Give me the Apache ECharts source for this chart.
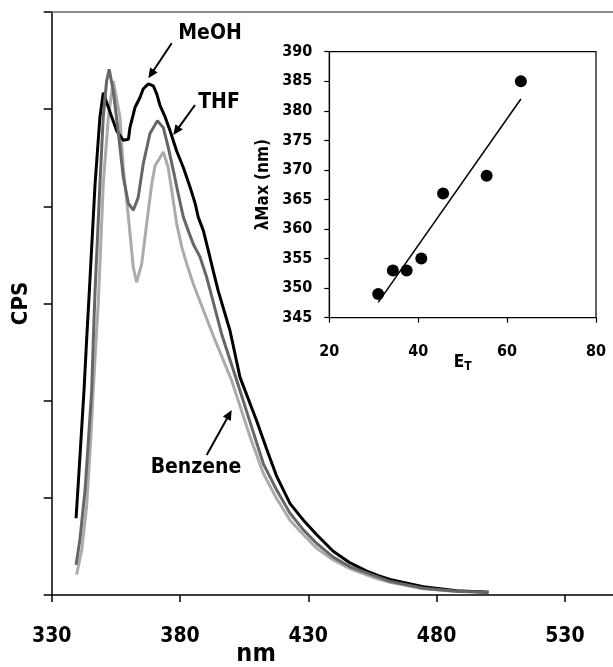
<!DOCTYPE html>
<html><head><meta charset="utf-8">
<script src="https://cdn.jsdelivr.net/npm/echarts@6/dist/echarts.min.js"></script>
<style>html,body{margin:0;padding:0;background:#fff}#c{width:613px;height:667px}</style>
</head><body><div id="c"></div>
<script>
const FONT = "'DejaVu Sans Condensed','DejaVu Sans',sans-serif";

// Emission spectra (wavelength nm, intensity CPS in arbitrary units)
const meohNm  = [339.5, 341.0, 342.6, 343.6, 344.7, 346.9, 348.8, 350.1, 353.4, 355.3, 357.9, 359.9, 360.5, 362.5, 364.4, 365.7, 367.7, 369.6, 370.9, 372.2, 374.2, 376.1, 378.7, 381.3, 383.9, 385.9, 387.1, 389.1, 391.0, 393.0, 394.9, 399.5, 403.4, 409.9, 413.8, 417.7, 422.9, 428.1, 433.3, 439.7, 446.3, 452.8, 457.3, 461.8, 474.8, 487.8, 500.2];
const meohCps = [0.79, 1.42, 2.11, 2.62, 3.14, 4.23, 4.92, 5.17, 4.92, 4.78, 4.68, 4.69, 4.81, 5.02, 5.12, 5.21, 5.26, 5.24, 5.16, 5.04, 4.92, 4.78, 4.57, 4.40, 4.20, 4.03, 3.89, 3.75, 3.55, 3.33, 3.13, 2.72, 2.24, 1.79, 1.50, 1.22, 0.94, 0.77, 0.62, 0.45, 0.33, 0.245, 0.20, 0.16, 0.085, 0.045, 0.028];

const thfNm  = [339.5, 341.0, 343.0, 344.3, 345.6, 346.2, 346.9, 348.8, 350.1, 351.4, 352.4, 354.0, 356.0, 357.9, 359.9, 361.8, 363.7, 365.7, 368.3, 371.2, 373.5, 375.4, 377.4, 379.3, 381.3, 383.2, 385.2, 387.8, 390.4, 392.4, 396.4, 402.1, 407.9, 412.5, 417.7, 422.9, 428.1, 433.3, 439.7, 446.3, 456.7, 461.8, 474.8, 487.8, 500.2];
const thfCps = [0.31, 0.57, 1.08, 1.59, 2.11, 2.62, 3.13, 4.23, 4.92, 5.29, 5.41, 5.19, 4.75, 4.30, 4.03, 3.96, 4.09, 4.44, 4.75, 4.88, 4.81, 4.61, 4.37, 4.13, 3.89, 3.75, 3.61, 3.48, 3.27, 3.07, 2.67, 2.21, 1.73, 1.35, 1.08, 0.84, 0.67, 0.53, 0.39, 0.29, 0.19, 0.14, 0.07, 0.038, 0.028];

const benzNm  = [339.7, 341.7, 343.6, 345.2, 346.2, 347.3, 348.2, 350.1, 352.1, 354.0, 356.6, 357.9, 359.9, 361.8, 363.1, 365.1, 367.0, 369.0, 370.3, 371.5, 373.5, 375.4, 376.8, 378.7, 380.7, 382.6, 385.2, 387.1, 393.7, 400.1, 407.3, 412.5, 417.7, 422.9, 428.1, 433.3, 439.7, 446.3, 456.7, 461.8, 474.8, 487.8, 500.2];
const benzCps = [0.21, 0.46, 0.91, 1.59, 2.11, 2.62, 3.03, 4.23, 4.92, 5.29, 4.92, 4.40, 3.89, 3.37, 3.22, 3.41, 3.82, 4.23, 4.42, 4.47, 4.56, 4.40, 4.16, 3.82, 3.58, 3.41, 3.20, 3.07, 2.62, 2.21, 1.63, 1.25, 0.99, 0.77, 0.62, 0.48, 0.36, 0.27, 0.17, 0.13, 0.065, 0.036, 0.028];

// Inset: solvent polarity E_T vs lambda max
const etValues  = [31.0, 34.3, 37.4, 40.7, 45.6, 55.4, 63.1];
const lambdaMax = [349, 353, 353, 355, 366, 369, 385];
const trendEt     = [31.0, 63.1];
const trendLambda = [347.6, 382.0];

const zip = (a, b) => a.map((v, i) => [v, b[i]]);

const chart = echarts.init(document.getElementById('c'), null, {renderer: 'canvas'});

function arrow(x1, y1, x2, y2) {
  const a = Math.atan2(y2 - y1, x2 - x1), L = 10, W = 4.5;
  const c = Math.cos(a), s = Math.sin(a);
  const bx = x2 - L * c, by = y2 - L * s;
  return [
    {type: 'line', shape: {x1: x1, y1: y1, x2: bx + 1.5 * c, y2: by + 1.5 * s}, style: {stroke: '#000', lineWidth: 2}},
    {type: 'polygon', shape: {points: [[x2, y2], [bx + W * s, by - W * c], [bx - W * s, by + W * c]]}, style: {fill: '#000'}}
  ];
}
function label(t, x, y) {
  return {type: 'text', x: x, y: y, style: {text: t, fill: '#000', font: 'bold 21px ' + FONT,
    align: 'center', verticalAlign: 'middle', textAlign: 'center', textVerticalAlign: 'middle'}};
}

const tickFont = {color: '#000', fontFamily: FONT, fontWeight: 'bold'};

chart.setOption({
  animation: false,
  backgroundColor: '#fff',
  grid: [
    {left: 51.7, top: 12, bottom: 72, width: 615.8, outerBoundsMode: 'none', containLabel: false},
    {left: 329.3, top: 51.7, bottom: 349.3, right: 17, outerBoundsMode: 'none', containLabel: false,
     show: true, borderColor: '#000', borderWidth: 1.2, backgroundColor: 'transparent'}
  ],
  xAxis: [
    {gridIndex: 0, type: 'value', min: 330, max: 570, interval: 50,
     name: 'nm', nameLocation: 'middle', nameGap: 47, nameMoveOverlap: false,
     nameTextStyle: Object.assign({fontSize: 25, padding: [0, 207, 0, 0]}, tickFont),
     axisLine: {show: true, lineStyle: {color: '#000', width: 1.5}},
     axisTick: {show: true, inside: false, length: 7, lineStyle: {color: '#000', width: 1.5}},
     axisLabel: Object.assign({fontSize: 21, margin: 31, formatter: v => (v <= 530 && (v - 330) % 50 === 0) ? String(v) : ''}, tickFont),
     splitLine: {show: false}},
    {gridIndex: 0, type: 'value', position: 'top', min: 330, max: 570,
     axisLine: {show: true, lineStyle: {color: '#666', width: 1.5}},
     axisTick: {show: false}, axisLabel: {show: false}, splitLine: {show: false}},
    {gridIndex: 1, type: 'value', min: 20, max: 80, interval: 20,
     name: 'E{s|T}', nameLocation: 'middle', nameGap: 34, nameMoveOverlap: false,
     nameTextStyle: Object.assign({fontSize: 17, rich: {s: {fontSize: 12, fontFamily: FONT, fontWeight: 'bold', color: '#000', padding: [9, 0, 0, 0]}}}, tickFont),
     axisLine: {show: true, lineStyle: {color: '#000', width: 1.2}},
     axisTick: {show: true, inside: false, length: 5, lineStyle: {color: '#000', width: 1.2}},
     axisLabel: Object.assign({fontSize: 16, margin: 26}, tickFont),
     splitLine: {show: false}}
  ],
  yAxis: [
    {gridIndex: 0, type: 'value', min: 0, max: 6, interval: 1,
     name: 'CPS', nameLocation: 'middle', nameGap: 19, nameMoveOverlap: false,
     nameTextStyle: Object.assign({fontSize: 22}, tickFont),
     axisLine: {show: true, lineStyle: {color: '#000', width: 1.5}},
     axisTick: {show: true, inside: false, length: 8, lineStyle: {color: '#000', width: 1.5}},
     axisLabel: {show: false}, splitLine: {show: false}},
    {gridIndex: 1, type: 'value', min: 345, max: 390, interval: 5,
     name: 'λMax (nm)', nameLocation: 'middle', nameGap: 57, nameMoveOverlap: false,
     nameTextStyle: Object.assign({fontSize: 17}, tickFont),
     axisLine: {show: true, lineStyle: {color: '#000', width: 1.2}},
     axisTick: {show: true, inside: false, length: 5, lineStyle: {color: '#000', width: 1.2}},
     axisLabel: Object.assign({fontSize: 16, margin: 17}, tickFont),
     splitLine: {show: false}}
  ],
  series: [
    {name: 'Benzene', type: 'line', xAxisIndex: 0, yAxisIndex: 0, data: zip(benzNm, benzCps),
     showSymbol: false, lineStyle: {color: '#ababab', width: 3}, itemStyle: {color: '#ababab'}},
    {name: 'MeOH', type: 'line', xAxisIndex: 0, yAxisIndex: 0, data: zip(meohNm, meohCps),
     showSymbol: false, lineStyle: {color: '#000', width: 3}, itemStyle: {color: '#000'}},
    {name: 'THF', type: 'line', xAxisIndex: 0, yAxisIndex: 0, data: zip(thfNm, thfCps),
     showSymbol: false, lineStyle: {color: '#666', width: 3}, itemStyle: {color: '#666'}},
    {name: 'λMax', type: 'scatter', xAxisIndex: 2, yAxisIndex: 1, data: zip(etValues, lambdaMax),
     symbolSize: 12, itemStyle: {color: '#000', opacity: 1}},
    {name: 'Trend', type: 'line', xAxisIndex: 2, yAxisIndex: 1, data: zip(trendEt, trendLambda),
     showSymbol: false, lineStyle: {color: '#000', width: 1.5}}
  ],
  graphic: [].concat(
    [label('MeOH', 210, 34), label('THF', 219, 103), label('Benzene', 196, 468)],
    arrow(171.7, 43.3, 148.3, 78.3),
    arrow(195, 105, 173.3, 135),
    arrow(206.7, 455, 231.7, 410)
  )
});
</script></body></html>
